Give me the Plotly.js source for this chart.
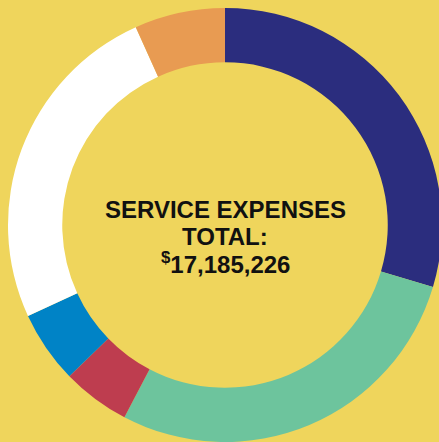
<!DOCTYPE html>
<html>
<head>
<meta charset="utf-8">
<script src="https://cdn.plot.ly/plotly-3.0.1.min.js"></script>
<style>
html,body{margin:0;padding:0;overflow:hidden;background:#EFD55C;}
#chart{width:450px;height:450px;}
</style>
</head>
<body>
<div id="chart"></div>
<script>
// Service expense categories (labels not shown in the reference)
const categories = ["Category 1", "Category 2", "Category 3", "Category 4", "Category 5", "Category 6"];
// Estimated dollar amounts, clockwise from 12 o'clock
const values = [5089000, 4822000, 869000, 926000, 4320000, 1159000];
const colors = ["#2B2D7E", "#6DC49D", "#BE3D4F", "#0083C6", "#FFFFFF", "#E89B52"];
const centerLines = ["SERVICE EXPENSES", "TOTAL:", "<sup>$</sup>17,185,226"];

const W = 450, H = 450;
const cx = 225, cy = 225, R = 217;

const trace = {
  type: "pie",
  labels: categories,
  values: values,
  marker: {colors: colors, line: {width: 0}},
  hole: 0.75,
  sort: false,
  direction: "clockwise",
  rotation: 0,
  textinfo: "none",
  hoverinfo: "label+value+percent",
  showlegend: false,
  domain: {
    x: [(cx - R) / W, (cx + R) / W],
    y: [1 - (cy + R) / H, 1 - (cy - R) / H]
  }
};

const lineY = [209.5, 236.3, 263];
const annotations = centerLines.map((t, i) => ({
  text: t,
  x: cx / W, y: 1 - lineY[i] / H,
  xref: "paper", yref: "paper",
  xanchor: "center", yanchor: "middle",
  showarrow: false,
  font: {family: "Liberation Sans, Arial, sans-serif", size: 24, color: "#111111", weight: 700}
}));

const layout = {
  width: W, height: H,
  margin: {l: 0, r: 0, t: 0, b: 0},
  paper_bgcolor: "#EFD55C",
  plot_bgcolor: "#EFD55C",
  showlegend: false,
  annotations: annotations
};

Plotly.newPlot("chart", [trace], layout, {displayModeBar: false, staticPlot: true});
</script>
</body>
</html>
